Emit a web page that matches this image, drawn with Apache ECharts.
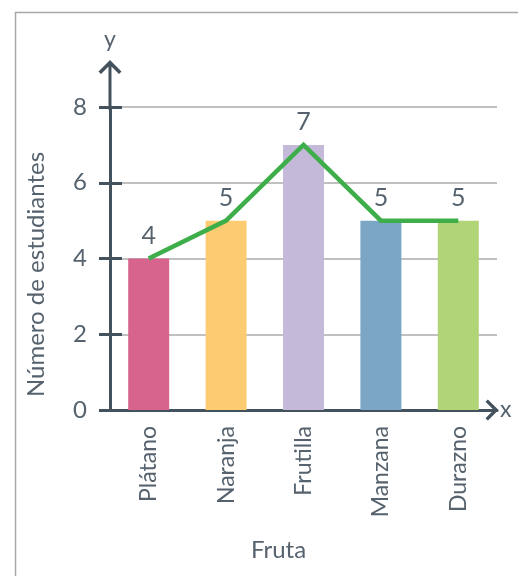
<!DOCTYPE html>
<html>
<head>
<meta charset="utf-8">
<script src="https://cdn.jsdelivr.net/npm/echarts@6/dist/echarts.min.js"></script>
<style>
html,body{margin:0;padding:0;background:#fff;}
#chart{width:518px;height:576px;}
</style>
</head>
<body>
<div id="chart"></div>
<script>
var categories = ['Plátano', 'Naranja', 'Frutilla', 'Manzana', 'Durazno'];
var values = [4, 5, 7, 5, 5];
var barColors = ['#D6648C', '#FDCB71', '#C5B9DA', '#7BA6C6', '#B1D576'];
var yTicks = [0, 2, 4, 6, 8];

var axisColor = '#44525E';
var textColor = '#56636E';
var font = 'Lato';

var yArrow = 'path://M11.5,0 L23,11.5 L20.5,14 L11.5,5 L2.5,14 L0,11.5 Z M10,3 L13,3 L13,50 L10,50 Z';
var xArrow = 'path://M11,0 L22,11 L19.5,13.5 L11,5 L2.5,13.5 L0,11 Z';

var chart = echarts.init(document.getElementById('chart'), null, {renderer: 'canvas'});
var option = {
  animation: false,
  backgroundColor: '#fff',
  graphic: [{
    type: 'rect',
    left: 13, top: 10,
    shape: {width: 504, height: 600},
    style: {fill: 'none', stroke: '#a8a8a8', lineWidth: 1.5},
    silent: true
  }],
  grid: {left: 110, right: 21, top: 107, bottom: 166, containLabel: false},
  xAxis: [{
    type: 'category',
    data: categories,
    name: 'Fruta',
    nameLocation: 'middle',
    nameGap: 128,
    nameTextStyle: {fontFamily: font, fontSize: 24, color: textColor, padding: [0, 50, 0, 0]},
    axisLine: {show: true, lineStyle: {color: axisColor, width: 3},
      symbol: ['none', xArrow], symbolSize: [22, 13], symbolOffset: [0, -5]},
    axisTick: {show: false},
    axisLabel: {rotate: 90, margin: 16, fontFamily: font, fontSize: 23, color: textColor},
    splitLine: {show: false}
  }, {
    type: 'category',
    data: categories,
    position: 'bottom',
    name: 'x',
    nameLocation: 'end',
    nameGap: 3,
    nameTextStyle: {fontFamily: font, fontSize: 23, color: textColor},
    axisLine: {show: false},
    axisTick: {show: false},
    axisLabel: {show: false},
    splitLine: {show: false}
  }],
  yAxis: [{
    type: 'value',
    min: 0, max: 8, interval: 2,
    name: 'Número de estudiantes',
    nameLocation: 'middle',
    nameGap: 62,
    nameTextStyle: {fontFamily: font, fontSize: 24, color: textColor, padding: [0, 32, 0, 0]},
    axisLine: {show: true, lineStyle: {color: axisColor, width: 3},
      symbol: ['none', yArrow], symbolSize: [23, 50], symbolOffset: [0, 22]},
    axisTick: {show: true, length: 11, lineStyle: {color: axisColor, width: 3}},
    axisLabel: {margin: 23, fontFamily: font, fontSize: 24, color: textColor,
      formatter: function (v) { return yTicks.indexOf(v) >= 0 ? String(v) : ''; }},
    splitLine: {show: true, lineStyle: {color: '#ABABAB', width: 1.5}}
  }, {
    type: 'value',
    min: 0, max: 8, interval: 2,
    position: 'left',
    name: 'y',
    nameLocation: 'end',
    nameGap: 56,
    nameTextStyle: {fontFamily: font, fontSize: 23, color: textColor, align: 'center'},
    axisLine: {show: false},
    axisTick: {show: true, inside: true, length: 12, lineStyle: {color: axisColor, width: 3}},
    axisLabel: {show: false},
    splitLine: {show: false}
  }],
  series: [{
    type: 'bar',
    xAxisIndex: 0, yAxisIndex: 0,
    barWidth: 41,
    data: values.map(function (v, i) { return {value: v, itemStyle: {color: barColors[i]}}; }),
    label: {show: true, position: 'top', distance: 10, fontFamily: font, fontSize: 25, color: textColor},
    z: 2
  }, {
    type: 'line',
    xAxisIndex: 0, yAxisIndex: 0,
    data: values,
    showSymbol: false,
    symbol: 'none',
    lineStyle: {color: '#3DAE49', width: 4.5, join: 'miter'},
    z: 3
  }]
};
chart.setOption(option);
</script>
</body>
</html>
